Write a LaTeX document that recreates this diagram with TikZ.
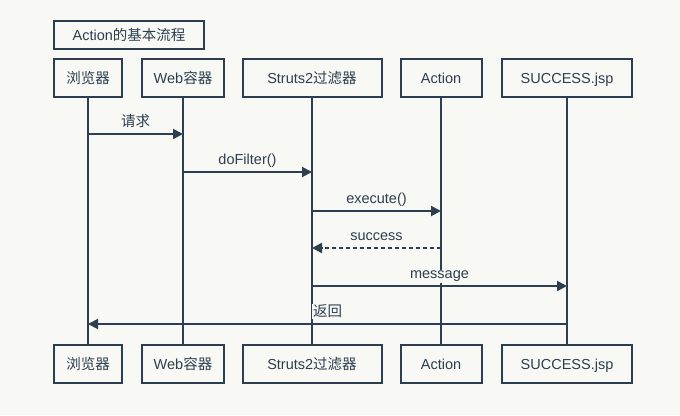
\documentclass[tikz,border=0pt]{standalone}
\usepackage{fontspec}
\setmainfont{Liberation Sans}
\newfontfamily\cjk{Noto Sans CJK SC}
\usepackage{tikz}
\usetikzlibrary{arrows.meta}
\definecolor{ink}{RGB}{44, 62, 80}
\definecolor{paper}{RGB}{248, 248, 244}

\tikzset{
  actor/.style={draw, fill=paper, text=ink, minimum height=38, minimum width=#1, inner sep=2pt,
    text height=13pt, text depth=1.5pt},
  msg/.style={-{Triangle[length=10pt, width=10pt]}},
  msglabel/.style={midway, anchor=base, yshift=7.5pt, fill=paper, text=ink, inner sep=1pt}
}

\begin{document}
\begin{tikzpicture}[x=1pt, y=1pt, line width=2pt, color=ink, font=\fontsize{14.5}{16}\selectfont]
  \fill [paper] (0, 0) rectangle (680, -415);
  \useasboundingbox (0, 0) rectangle (680, -415);

  % Title
  \node [actor=150, minimum height=28] (title) at (129, -35) {Action{\cjk 的基本流程}};

  % Top row
  \node [actor=68] (br) at (88, -78) {\cjk 浏览器};
  \node [actor=82] (web) at (183, -78) {Web{\cjk 容器}};
  \node [actor=139] (flt) at (312, -78) {Struts2{\cjk 过滤器}};
  \node [actor=81] (act) at (441, -78) {Action};
  \node [actor=130] (jsp) at (567, -78) {SUCCESS.jsp};

  % Bottom row
  \node [actor=68] (brB) at (88, -364) {\cjk 浏览器};
  \node [actor=82] (webB) at (183, -364) {Web{\cjk 容器}};
  \node [actor=139] (fltB) at (312, -364) {Struts2{\cjk 过滤器}};
  \node [actor=81] (actB) at (441, -364) {Action};
  \node [actor=130] (jspB) at (567, -364) {SUCCESS.jsp};

  % Lifelines
  \draw (br) -- (brB);
  \draw (web) -- (webB);
  \draw (flt) -- (fltB);
  \draw (act) -- (actB);
  \draw (jsp) -- (jspB);

  % Messages
  \draw [msg] (br |- 0, -134) -- (web |- 0, -134) node [msglabel] {\cjk 请求};
  \draw [msg] (web |- 0, -172) -- (flt |- 0, -172) node [msglabel] {doFilter()};
  \draw [msg] (flt |- 0, -211) -- (act |- 0, -211) node [msglabel] {execute()};
  \draw [msg, dash pattern=on 4pt off 3pt] (act |- 0, -248) -- (flt |- 0, -248) node [msglabel] {success};
  \draw [msg] (flt |- 0, -286) -- (jsp |- 0, -286) node [msglabel] {message};
  \draw [msg] (jsp |- 0, -324) -- (br |- 0, -324) node [msglabel] {\cjk 返回};

\end{tikzpicture}
\end{document}
